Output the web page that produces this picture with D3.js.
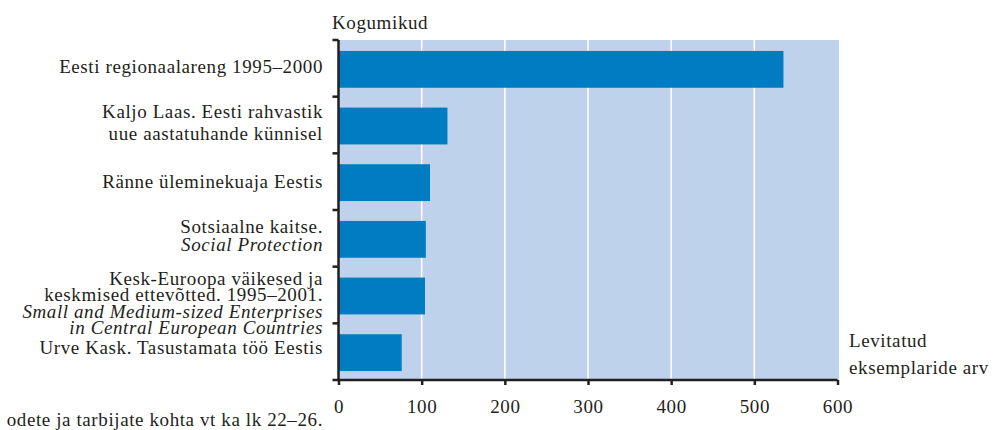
<html>
  <head>
    <meta charset="UTF-8">
    <title>Kogumikud</title>
    <style type="text/css">
      body { margin: 0; background-color: #fff; }
      svg { display: block; }
      .axis path, .axis line { stroke: #231f20; stroke-width: 2.5px; }
    </style>
    <script src="https://cdn.jsdelivr.net/npm/d3@7"></script>
  </head>
  <body>
    <div id="chart"></div>
    <script type="text/javascript">

      // data
      var titles = [
        [{t: "Eesti regionaalareng 1995–2000"}],
        [{t: "Kaljo Laas. Eesti rahvastik"}, {t: "uue aastatuhande künnisel"}],
        [{t: "Ränne üleminekuaja Eestis"}],
        [{t: "Sotsiaalne kaitse."}, {t: "Social Protection", i: true}],
        [{t: "Kesk-Euroopa väikesed ja"}, {t: "keskmised ettevõtted. 1995–2001."},
         {t: "Small and Medium-sized Enterprises", i: true}, {t: "in Central European Countries", i: true}],
        [{t: "Urve Kask. Tasustamata töö Eestis"}]
      ];
      var copies = [535, 131, 110, 105, 104, 76];
      var xTicks = [0, 100, 200, 300, 400, 500, 600];

      // label line spacing and vertical nudge (per label)
      var lineH = [0, 21.4, 0, 17.6, 16.2, 0];
      var nudge = [4.5, 4, 6.6, 3.7, 14.5, 2.3];

      var width = 996, height = 430;
      // note: "top" is taken by window.top, so plot edges get their own names
      var pLeft = 338.5, pRight = 837.5, pTop = 40, pBottom = 380;
      var serif = "'Liberation Serif', 'Times New Roman', serif";
      var fs = "19px";
      var ink = "#231f20";

      var svg = d3.select("#chart").append("svg")
        .attr("width", width).attr("height", height);

      var xScale = d3.scaleLinear().domain([0, 600]).range([pLeft, pRight]);
      var yScale = d3.scaleBand().domain(d3.range(copies.length)).range([pTop, pBottom])
        .paddingInner(0.35).paddingOuter(0.175);

      // plot background
      svg.append("rect")
        .attr("x", pLeft).attr("y", pTop)
        .attr("width", pRight + 1.5 - pLeft).attr("height", pBottom - pTop)
        .attr("fill", "#bed3eb");

      // white grid lines
      svg.selectAll(".grid")
        .data(xTicks.slice(1, -1))
        .enter().append("line")
        .attr("x1", function(d) { return xScale(d); })
        .attr("x2", function(d) { return xScale(d); })
        .attr("y1", pTop).attr("y2", pBottom)
        .attr("stroke", "#fff").attr("stroke-width", 1.5);

      // bars
      svg.selectAll(".bar")
        .data(copies)
        .enter().append("rect")
        .attr("class", "bar")
        .attr("x", xScale(0))
        .attr("y", function(d, i) { return yScale(i) + 1; })
        .attr("width", function(d) { return xScale(d) - xScale(0); })
        .attr("height", yScale.bandwidth())
        .attr("fill", "#007cc2");

      // axes
      var xAxis = d3.axisBottom(xScale).tickValues(xTicks).tickSize(5).tickSizeOuter(0).tickFormat(d3.format("d"));
      var xAxisG = svg.append("g").attr("class", "axis")
        .attr("transform", "translate(0," + pBottom + ")")
        .call(xAxis);
      xAxisG.select(".domain").attr("d", "M" + (pLeft - 1) + ",0H" + pRight);
      xAxisG.selectAll("text").attr("y", 33).attr("dy", 0);

      var bounds = d3.range(copies.length + 1).map(function(i) { return pTop + i * yScale.step(); });
      var yG = svg.append("g").attr("class", "axis");
      yG.append("line").attr("x1", pLeft).attr("x2", pLeft).attr("y1", pTop).attr("y2", pBottom + 1);
      yG.selectAll(".tk").data(bounds).enter().append("line")
        .attr("x1", pLeft - 6).attr("x2", pLeft)
        .attr("y1", function(d) { return d; }).attr("y2", function(d) { return d; });

      // category labels
      titles.forEach(function(lines, i) {
        var c = yScale(i) + yScale.bandwidth() / 2 + nudge[i];
        var n = lines.length;
        var t = svg.append("text").attr("class", "lbl").attr("text-anchor", "end");
        lines.forEach(function(l, j) {
          t.append("tspan")
            .attr("x", 323)
            .attr("y", c + (j - (n - 1) / 2) * lineH[i])
            .style("font-style", l.i ? "italic" : "normal")
            .text(l.t);
        });
      });

      // titles and notes
      svg.append("text").attr("x", 332).attr("y", 29).text("Kogumikud");
      svg.append("text").attr("x", 849).attr("y", 347).text("Levitatud");
      svg.append("text").attr("x", 849).attr("y", 374).text("eksemplaride arv");
      svg.append("text").attr("class", "lbl").attr("x", 323).attr("y", 426).attr("text-anchor", "end")
        .text("odete ja tarbijate kohta vt ka lk 22–26.");

      // one font for every text; the source face is a touch wider than Liberation
      svg.selectAll("text")
        .style("font-family", serif)
        .style("font-size", fs)
        .style("letter-spacing", "0.6px")
        .attr("fill", ink);

    </script>
  </body>
</html>
